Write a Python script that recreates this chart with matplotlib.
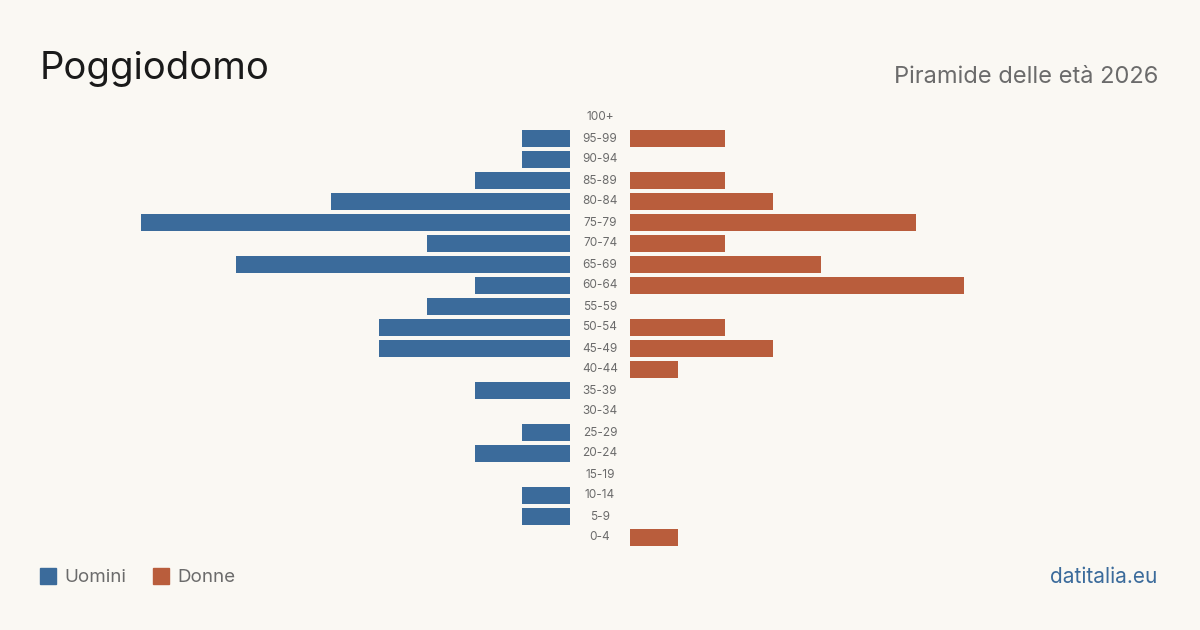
import matplotlib

matplotlib.use("Agg")
import matplotlib.pyplot as plt
from matplotlib.patches import Rectangle

age_groups = ["0-4", "5-9", "10-14", "15-19", "20-24", "25-29", "30-34", "35-39",
              "40-44", "45-49", "50-54", "55-59", "60-64", "65-69", "70-74", "75-79",
              "80-84", "85-89", "90-94", "95-99", "100+"]
men = [0, 1, 1, 0, 2, 1, 0, 2, 0, 4, 4, 3, 2, 7, 3, 9, 5, 2, 1, 1, 0]
women = [1, 0, 0, 0, 0, 0, 0, 0, 1, 3, 2, 0, 7, 4, 2, 6, 3, 2, 0, 2, 0]

title = "Poggiodomo"
subtitle = "Piramide delle età 2026"
source = "datitalia.eu"

bg = "#faf8f3"
blue = "#3b6b9b"
red = "#b95d3c"
grey = "#6b6b6b"

plt.rcParams["font.family"] = ["Inter", "DejaVu Sans"]

fig = plt.figure(figsize=(12, 6.3), dpi=100, facecolor=bg)

# one person = ~47.7 px, center gap 60 px
unit = 47.7
half_w = 600 / unit
gap = 30 / unit

ax = fig.add_axes([0, (630 - 548) / 630, 1, 441 / 630])
ax.set_facecolor(bg)
ax.set_xlim(-half_w, half_w)
ax.set_ylim(-0.5, len(age_groups) - 0.5)
ax.axis("off")

y = list(range(len(age_groups)))
ax.barh(y, [-m for m in men], left=-gap, height=0.81, color=blue)
ax.barh(y, women, left=gap, height=0.81, color=red)

for i, label in enumerate(age_groups):
    ax.text(0, i, label, ha="center", va="center", fontsize=8.5, color=grey)

fig.text(40 / 1200, 1 - 69 / 630, title, fontsize=27.5, color="#1a1a1a",
         ha="left", va="center")
fig.text(1158 / 1200, 1 - 77 / 630, subtitle, fontsize=17, color=grey,
         ha="right", va="center")

# legend
fig.patches.append(Rectangle((40 / 1200, 1 - 584 / 630), 16 / 1200, 16 / 630,
                             transform=fig.transFigure, color=blue))
fig.text(64 / 1200, 1 - 577 / 630, "Uomini", fontsize=13.5, color=grey,
         ha="left", va="center")
fig.patches.append(Rectangle((153 / 1200, 1 - 584 / 630), 16 / 1200, 16 / 630,
                             transform=fig.transFigure, color=red))
fig.text(177 / 1200, 1 - 577 / 630, "Donne", fontsize=13.5, color=grey,
         ha="left", va="center")

fig.text(1157 / 1200, 1 - 577 / 630, source, fontsize=15, color=blue,
         ha="right", va="center")

fig.savefig("out.png", dpi=100, facecolor=bg)
